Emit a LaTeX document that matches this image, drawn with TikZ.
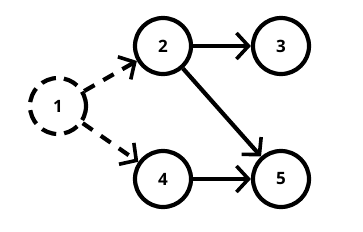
\documentclass[tikz,border=0pt]{standalone}
\usepackage{fontspec}
\setmainfont{Open Sans}
\usetikzlibrary{arrows.meta,positioning}

\begin{document}
\begin{tikzpicture}[
        x=1pt, y=-1pt,
        node distance=1cm,
        vertex/.style={draw, circle, line width=4.2pt, minimum size=56pt, inner sep=0pt, font=\fontsize{17}{19}\selectfont\bfseries},
        hidden/.style={vertex, dash pattern=on 15pt off 8pt},
        arrow/.style={-{Straight Barb[length=12pt,width=26pt,line width=3.6pt]}, line width=4.2pt},
        dasharrow/.style={arrow, dash pattern=on 12pt off 10pt}
    ]
        \useasboundingbox (0,0) rectangle (363,231);

        % Start
        \node[hidden] (n1) at (58,106) {1};

        % Upper row
        \node[vertex] (n2) at (163,46) {2};
        \node[vertex, right=118pt of n2.center, anchor=center] (n3) {3};

        % Lower row
        \node[vertex, below=133pt of n2.center, anchor=center] (n4) {4};
        \node[vertex, right=118pt of n4.center, anchor=center] (n5) {5};

        % Arrows
        \draw[dasharrow] (n1) -- (n2);
        \draw[dasharrow] (n1) -- (n4);
        \draw[arrow] (n2) -- (n3);
        \draw[arrow] (n2) -- (n5);
        \draw[arrow] (n4) -- (n5);

    \end{tikzpicture}
\end{document}
